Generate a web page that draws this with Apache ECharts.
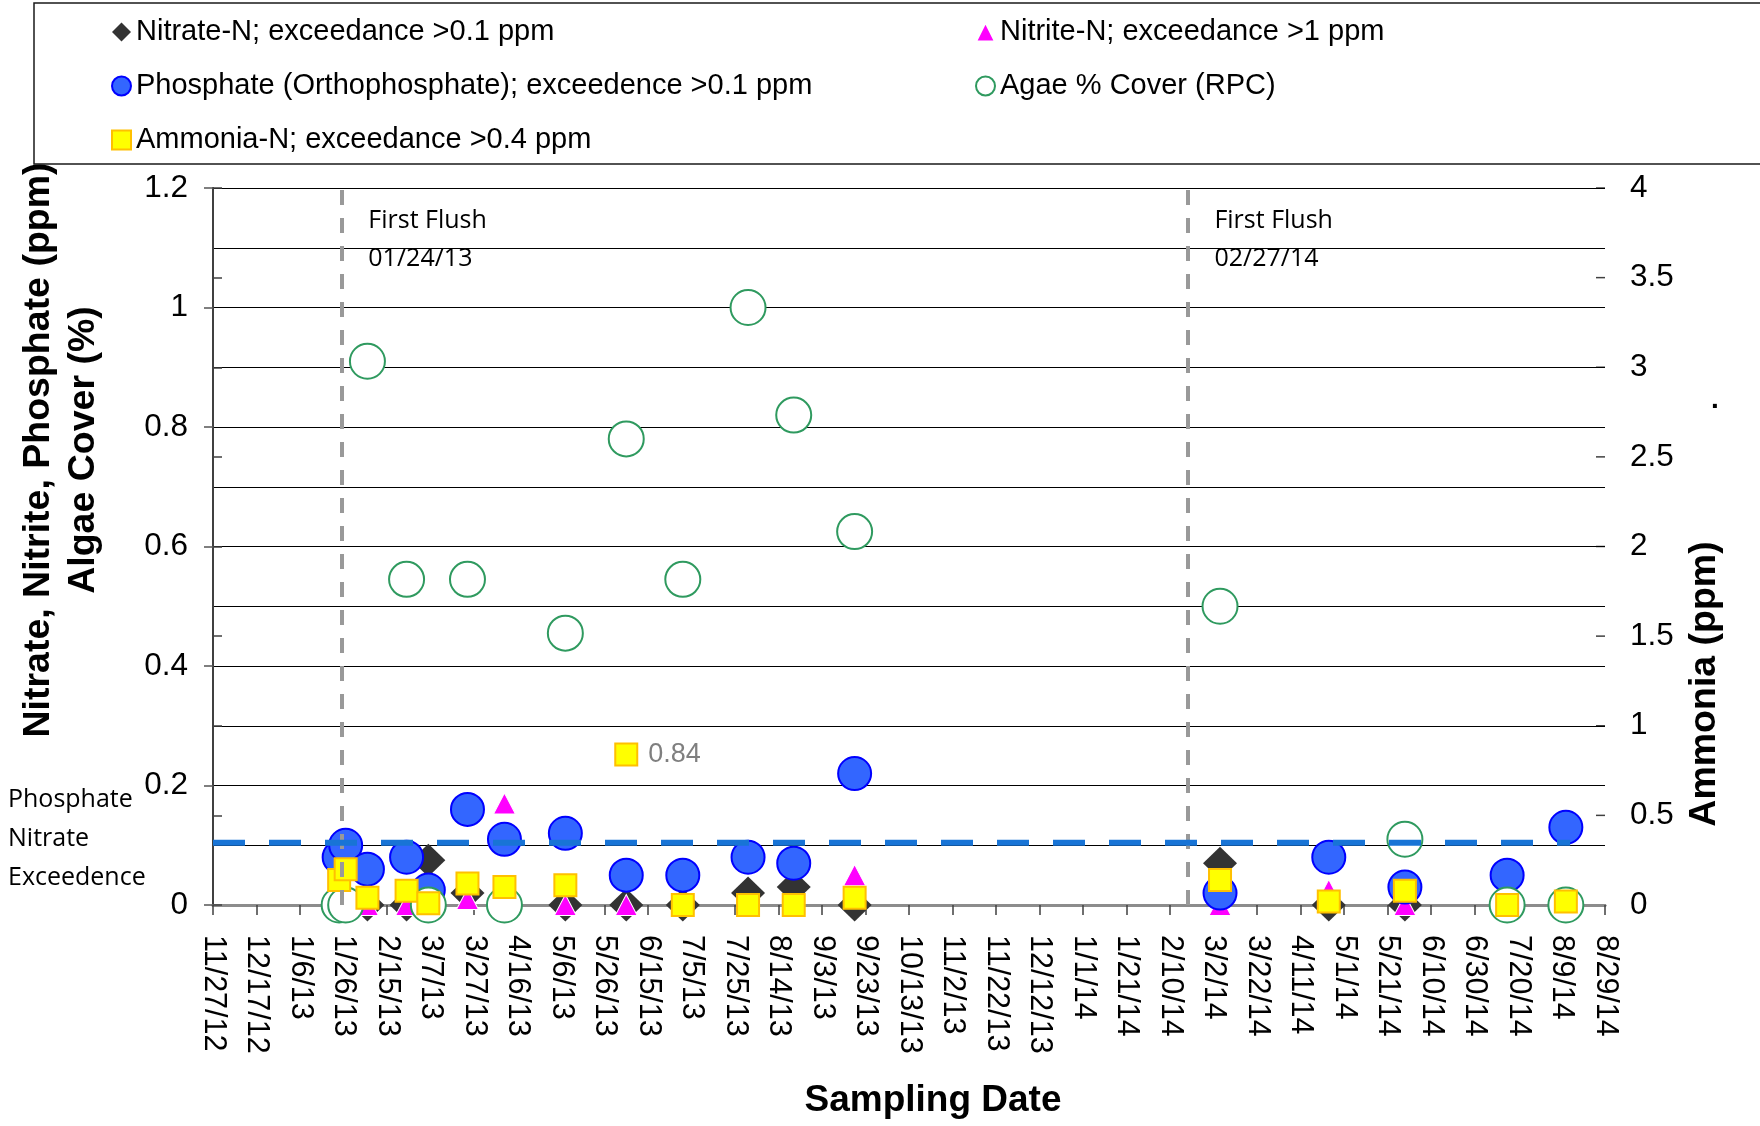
<!DOCTYPE html>
<html>
<head>
<meta charset="utf-8">
<title>Nutrients and Algae Cover by Sampling Date</title>
<script src="https://cdn.jsdelivr.net/npm/echarts@6/dist/echarts.min.js"></script>
<style>
    html, body { margin: 0; padding: 0; background: #ffffff; }
    #chart { width: 1760px; height: 1126px; }
</style>
</head>
<body>
<div id="chart"></div>
<script>
// Sampling dates (M/D/YY)
const sampleDates = ['1/24/13', '1/27/13', '2/6/13', '2/24/13', '3/6/13', '3/24/13', '4/10/13', '5/8/13', '6/5/13',
    '7/1/13', '7/31/13', '8/21/13', '9/18/13', '3/5/14', '4/24/14', '5/29/14', '7/15/14', '8/11/14'];

// Left axis (ppm / fraction)
const nitrate   = [0, 0, 0, 0, 0.075, 0.02, 0, 0, 0, 0, 0.02, 0.03, 0, 0.07, 0, 0, 0, 0];
const nitrite   = [0.02, 0, 0, 0, 0, 0.01, 0.17, 0, 0, 0, 0, 0, 0.05, 0, 0.025, 0, 0, 0];
const phosphate = [0.08, 0.10, 0.06, 0.08, 0.025, 0.16, 0.11, 0.12, 0.05, 0.05, 0.08, 0.07, 0.22, 0.02, 0.08, 0.03, 0.05, 0.13];
const algae     = [0, 0, 0.91, 0.545, 0, 0.545, 0, 0.455, 0.78, 0.545, 1.0, 0.82, 0.625, 0.5, null, 0.11, 0, 0];
// Right axis (ppm)
const ammonia   = [0.14, 0.20, 0.04, 0.08, 0.01, 0.12, 0.10, 0.11, 0.84, 0, 0, 0, 0.04, 0.14, 0.02, 0.08, 0, 0.02];
const ammoniaLabelled = ['6/5/13'];

// Axes
const axisStart = '11/27/12';
const axisEnd = '8/29/14';
const tickDays = 20;
const leftMax = 1.2, leftStep = 0.2;
const rightMax = 4, rightStep = 0.5;

// Reference lines
const exceedence = 0.104;
const exceedenceSpan = ['11/27/12', '8/13/14'];
const flushLineDates = ['1/25/13', '2/18/14'];
const flushLabels = ['First Flush\n01/24/13', 'First Flush\n02/27/14'];

const seriesNames = {
    nitrate: 'Nitrate-N; exceedance >0.1 ppm',
    nitrite: 'Nitrite-N; exceedance >1 ppm',
    phosphate: 'Phosphate (Orthophosphate); exceedence >0.1 ppm',
    algae: 'Agae % Cover (RPC)',
    ammonia: 'Ammonia-N; exceedance >0.4 ppm'
};

const FONT = '"Liberation Sans", Arial, sans-serif';
const NOTE_FONT = '"Open Sans", "Noto Sans", sans-serif';
const BASE = Date.UTC(2012, 10, 27);

function dayOf(s) {
    const [m, d, y] = s.split('/').map(Number);
    return Math.round((Date.UTC(2000 + y, m - 1, d) - BASE) / 86400000);
}

function dateLabel(v) {
    const t = new Date(BASE + v * 86400000);
    return (t.getUTCMonth() + 1) + '/' + t.getUTCDate() + '/' + String(t.getUTCFullYear()).slice(2);
}

function toPoints(values) {
    const pts = [];
    sampleDates.forEach((d, i) => {
        if (values[i] !== null) pts.push([dayOf(d), values[i]]);
    });
    return pts;
}

const ammoniaData = sampleDates.map((d, i) => {
    const item = { value: [dayOf(d), ammonia[i]] };
    if (ammoniaLabelled.includes(d)) {
        item.label = {
            show: true, position: 'right', distance: 10,
            formatter: String(ammonia[i]),
            color: '#7f7f7f', fontFamily: FONT, fontSize: 27
        };
    }
    return item;
});

const chart = echarts.init(document.getElementById('chart'));

const legendBase = {
    orient: 'vertical',
    top: 15,
    padding: 0,
    itemWidth: 19,
    itemHeight: 19,
    itemGap: 20,
    selectedMode: false,
    textStyle: { fontFamily: FONT, fontSize: 29, color: '#000', lineHeight: 34 }
};

function textStyle(extra) {
    const s = Object.assign({ fontFamily: FONT, fill: '#000', align: 'center', verticalAlign: 'middle' }, extra);
    s.textAlign = s.align;
    s.textVerticalAlign = s.verticalAlign;
    return s;
}

const baseGraphics = [
    { id: 'legendBox', type: 'rect', z: 0, shape: { x: 34, y: 3, width: 1760, height: 161 },
      style: { fill: 'none', stroke: '#1a1a1a', lineWidth: 1.5 } },
    { id: 'leftTitle', type: 'text', x: 61, y: 450, rotation: Math.PI / 2,
      style: textStyle({ text: 'Nitrate, Nitrite, Phosphate (ppm)\nAlgae Cover (%)', fontSize: 37.5,
                         fontWeight: 'bold', lineHeight: 45 }) },
    { id: 'rightTitle', type: 'text', x: 1705, y: 684, rotation: Math.PI / 2,
      style: textStyle({ text: 'Ammonia (ppm)', fontSize: 37.5, fontWeight: 'bold' }) },
    { id: 'xTitle', type: 'text', x: 933, y: 1101,
      style: textStyle({ text: 'Sampling Date', fontSize: 37, fontWeight: 'bold' }) },
    { id: 'exceedNote', type: 'text', x: 8, y: 780,
      style: textStyle({ text: 'Phosphate\nNitrate\nExceedence', fontFamily: NOTE_FONT, fontSize: 25,
                         lineHeight: 39, align: 'left', verticalAlign: 'top' }) },
    { id: 'dot', type: 'text', x: 1715, y: 400,
      style: textStyle({ text: '.', fontSize: 28, fontWeight: 'bold' }) },
    // inner half of the crossing ticks on the ammonia axis
    { id: 'rightTicks', type: 'group', children: [] }
];

const option = {
    animation: false,
    backgroundColor: '#ffffff',
    grid: { left: 213, right: 155, top: 188, bottom: 221 },
    legend: [
        Object.assign({}, legendBase, { left: 111, data: [seriesNames.nitrate, seriesNames.phosphate, seriesNames.ammonia] }),
        Object.assign({}, legendBase, { left: 975, data: [seriesNames.nitrite, seriesNames.algae] })
    ],
    xAxis: [
        {
            type: 'value',
            min: dayOf(axisStart),
            max: dayOf(axisEnd),
            interval: tickDays,
            axisLine: { lineStyle: { color: '#404040', width: 2.5 } },
            axisTick: { length: 10, lineStyle: { color: '#404040', width: 1.5 } },
            axisLabel: { rotate: -90, margin: 30, fontFamily: FONT, fontSize: 30.5, color: '#000',
                         formatter: dateLabel, showMinLabel: true, showMaxLabel: true },
            splitLine: { show: false }
        },
        {
            type: 'value', position: 'top',
            min: dayOf(axisStart), max: dayOf(axisEnd), interval: tickDays,
            axisLine: { lineStyle: { color: '#8c8c8c', width: 3 } },
            axisTick: { show: false }, axisLabel: { show: false }, splitLine: { show: false }
        }
    ],
    yAxis: [
        {
            type: 'value', position: 'left', min: 0, max: leftMax, interval: leftStep,
            axisLine: { show: true, lineStyle: { color: '#555', width: 2 } },
            axisTick: { show: true, length: 9, lineStyle: { color: '#555', width: 1.5 } },
            axisLabel: { margin: 25, fontFamily: FONT, fontSize: 31.5, color: '#000' },
            splitLine: { lineStyle: { color: '#000', width: 1.2 } },
            minorTick: { show: false, splitNumber: 2 },
            minorSplitLine: { show: true, lineStyle: { color: '#000', width: 1.2 } }
        },
        {
            type: 'value', position: 'right', min: 0, max: rightMax, interval: rightStep,
            axisLine: { show: true, lineStyle: { color: '#404040', width: 2 } },
            axisTick: { show: true, length: 9, lineStyle: { color: '#404040', width: 1.5 } },
            axisLabel: { margin: 25, fontFamily: FONT, fontSize: 31.5, color: '#000' },
            splitLine: { show: false }
        }
    ],
    series: [
        {
            name: seriesNames.nitrate, type: 'scatter', clip: false, yAxisIndex: 0,
            symbol: 'diamond', symbolSize: [34, 33],
            itemStyle: { color: '#333333', opacity: 1 },
            data: toPoints(nitrate)
        },
        {
            name: seriesNames.nitrite, type: 'scatter', clip: false, yAxisIndex: 0,
            symbol: 'triangle', symbolSize: [22, 21],
            itemStyle: { color: '#ff00ff', borderColor: '#ffffff', borderWidth: 1, opacity: 1 },
            data: toPoints(nitrite)
        },
        {
            name: seriesNames.phosphate, type: 'scatter', clip: false, yAxisIndex: 0,
            symbol: 'circle', symbolSize: 33,
            itemStyle: { color: '#3366ff', borderColor: '#0000ff', borderWidth: 2, opacity: 1 },
            data: toPoints(phosphate)
        },
        {
            name: seriesNames.algae, type: 'scatter', clip: false, yAxisIndex: 0,
            symbol: 'emptyCircle', symbolSize: 35,
            itemStyle: { color: '#2f9a5f', borderColor: '#2f9a5f', borderWidth: 2.5, opacity: 1 },
            data: toPoints(algae)
        },
        {
            name: seriesNames.ammonia, type: 'scatter', clip: false, yAxisIndex: 1,
            symbol: 'rect', symbolSize: 22,
            itemStyle: { color: '#ffff00', borderColor: '#ffc000', borderWidth: 2, opacity: 1 },
            data: ammoniaData
        },
        {
            name: 'Phosphate Nitrate Exceedence', type: 'line', yAxisIndex: 0, z: 10,
            showSymbol: false, silent: true,
            lineStyle: { color: '#1874d6', width: 6, type: [32, 24], cap: 'butt', opacity: 1 },
            data: exceedenceSpan.map(d => [dayOf(d), exceedence]),
            markLine: {
                silent: true, symbol: ['none', 'none'], label: { show: false },
                lineStyle: { color: '#999999', width: 4, type: [15, 13] },
                data: flushLineDates.map(d => ({ xAxis: dayOf(d) }))
            }
        }
    ],
    graphic: baseGraphics
};

chart.setOption(option);

// First Flush notes placed next to their reference lines
const flushGraphics = flushLineDates.map((d, i) => {
    const px = chart.convertToPixel({ xAxisIndex: 0 }, dayOf(d));
    return {
        id: 'flush' + i, type: 'text', x: px + 27, y: 202,
        style: textStyle({ text: flushLabels[i], fontFamily: NOTE_FONT, fontSize: 25, lineHeight: 38,
                           align: 'left', verticalAlign: 'top' })
    };
});

// inner halves of the ammonia axis ticks (the reference ticks cross the axis)
const rightX = chart.convertToPixel({ xAxisIndex: 0 }, dayOf(axisEnd));
const tickMarks = [];
for (let v = 0; v <= rightMax + 1e-9; v += rightStep) {
    const py = chart.convertToPixel({ yAxisIndex: 1 }, v);
    tickMarks.push({ type: 'line', shape: { x1: rightX - 9, y1: py, x2: rightX, y2: py },
                     style: { stroke: '#404040', lineWidth: 1.5 } });
}
baseGraphics[baseGraphics.length - 1].children = tickMarks;

chart.setOption({ graphic: baseGraphics.concat(flushGraphics) });
</script>
</body>
</html>
